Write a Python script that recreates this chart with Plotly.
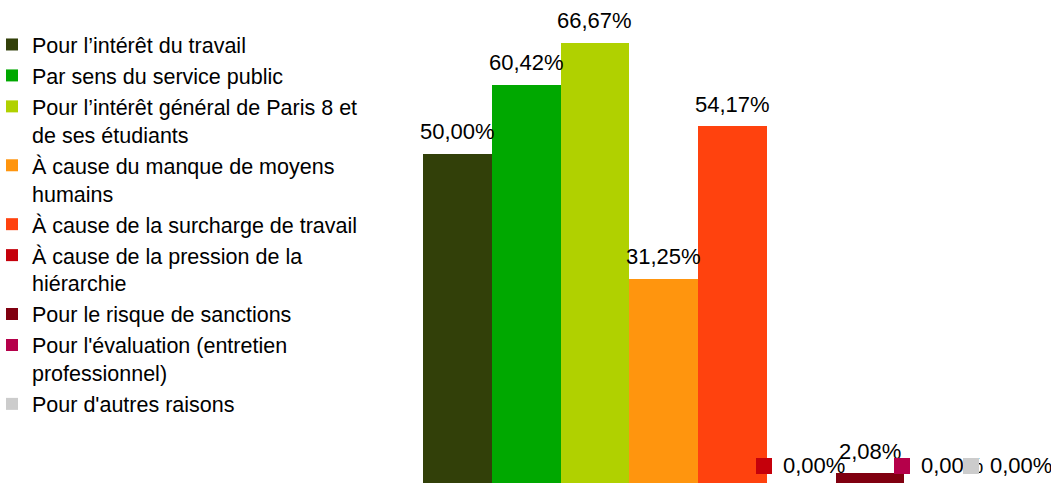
import plotly.graph_objects as go

categories = [
    "Pour l’intérêt du travail",
    "Par sens du service public",
    "Pour l’intérêt général de Paris 8 et de ses étudiants",
    "À cause du manque de moyens humains",
    "À cause de la surcharge de travail",
    "À cause de la pression de la hiérarchie",
    "Pour le risque de sanctions",
    "Pour l'évaluation (entretien professionnel)",
    "Pour d'autres raisons",
]
legend_labels = [
    "Pour l’intérêt du travail",
    "Par sens du service public",
    "Pour l’intérêt général de Paris 8 et<br>de ses étudiants",
    "À cause du manque de moyens<br>humains",
    "À cause de la surcharge de travail",
    "À cause de la pression de la<br>hiérarchie",
    "Pour le risque de sanctions",
    "Pour l'évaluation (entretien<br>professionnel)",
    "Pour d'autres raisons",
]
values = [50.00, 60.42, 66.67, 31.25, 54.17, 0.00, 2.08, 0.00, 0.00]
colors = ["#324009", "#00a800", "#b0d100", "#ff950e", "#ff420e",
          "#c5000b", "#800010", "#b5004a", "#cccccc"]

FONT = "Liberation Sans, Arial, sans-serif"

fig = go.Figure()
for cat, lab, v, c in zip(categories, legend_labels, values, colors):
    fig.add_trace(go.Bar(x=[cat], y=[v], name=lab, marker=dict(color=c, line=dict(width=0)),
                         hoverinfo="skip"))

annotations = []
for cat, v, c in zip(categories, values, colors):
    txt = f"{v:.2f}".replace(".", ",") + "%"
    if v == 0:
        annotations.append(dict(x=cat, y=v, xref="x", yref="y", text=" ", showarrow=False,
                                width=16, height=16, bgcolor=c, borderpad=0, borderwidth=0,
                                xshift=-37, yshift=21.5, yanchor="middle", xanchor="center"))
        annotations.append(dict(x=cat, y=v, xref="x", yref="y", text=txt, showarrow=False,
                                xshift=13, yshift=22, yanchor="middle", xanchor="center",
                                font=dict(family=FONT, size=22, color="#000000")))
    else:
        annotations.append(dict(x=cat, y=v, xref="x", yref="y", text=txt, showarrow=False,
                                yshift=22, yanchor="middle", xanchor="center",
                                font=dict(family=FONT, size=22, color="#000000")))

PLOT_L, PLOT_R = 423, 1042
fig.update_layout(
    width=1051, height=487,
    margin=dict(l=PLOT_L, r=1051 - PLOT_R, t=0, b=0, pad=0, autoexpand=False),
    paper_bgcolor="white", plot_bgcolor="white",
    barmode="overlay", bargap=0,
    font=dict(family=FONT, size=21, color="#000000"),
    xaxis=dict(visible=False, categoryorder="array", categoryarray=categories,
               range=[-0.5, len(categories) - 0.5]),
    yaxis=dict(visible=False, range=[0, 73.12]),
    showlegend=True,
    legend=dict(xref="paper", yref="paper", x=(-8 - PLOT_L) / (PLOT_R - PLOT_L),
                y=1 - 24 / 487,
                xanchor="left", yanchor="top", valign="top", traceorder="normal",
                bgcolor="rgba(0,0,0,0)", borderwidth=0,
                font=dict(family=FONT, size=21.5, color="#000000")),
    annotations=annotations,
)

fig.write_html("out.html", config={"displayModeBar": False},
               post_script="document.body.style.margin='0';document.body.style.overflow='hidden';")
